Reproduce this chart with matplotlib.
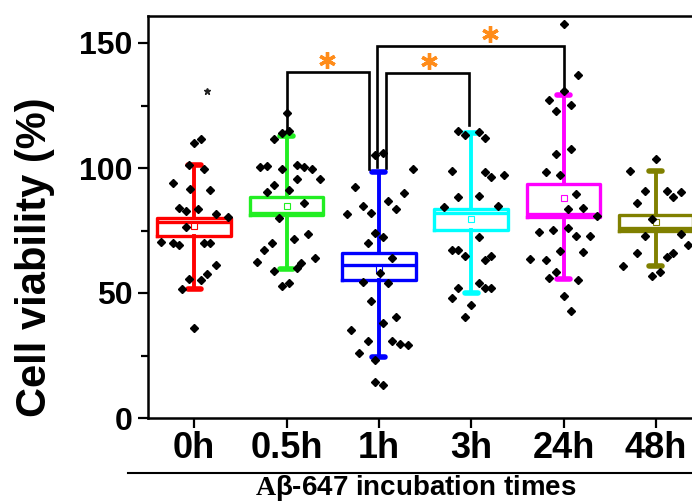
import matplotlib
matplotlib.use("Agg")
import matplotlib.pyplot as plt
from matplotlib.lines import Line2D

plt.rcParams['font.family'] = ['Liberation Sans', 'DejaVu Sans']
plt.rcParams['font.weight'] = 'bold'
plt.rcParams['mathtext.fontset'] = 'custom'
plt.rcParams['mathtext.rm'] = 'Liberation Serif'

# categories and colours
groups = ["0h", "0.5h", "1h", "3h", "24h", "48h"]
colors = ["#ff0000", "#22ee22", "#0000ff", "#00ffff", "#ff00ff", "#808000"]

# box statistics
q1 = [73.0, 81.2, 55.2, 75.2, 80.3, 74.8]
med = [78.5, 82.0, 61.2, 81.9, 81.6, 76.0]
q3 = [80.2, 88.5, 66.1, 83.6, 93.6, 81.2]
mean = [76.9, 84.8, 59.5, 79.6, 88.1, 78.3]
whislo = [51.7, 59.5, 24.5, 50.1, 55.7, 60.9]
whishi = [101.3, 112.8, 98.5, 113.9, 129.1, 98.9]

# raw points (values) and horizontal jitter
vals_0h = [110.1, 111.7, 101.3, 99.7, 94.1, 91.5, 91.2, 84.0, 82.9, 83.5, 81.6, 80.5,
           76.3, 70.5, 69.9, 69.2, 70.1, 69.9, 61.1, 57.7, 55.2, 55.7, 51.7, 36.1]
jit_0h = [0, .07, -.06, .11, -.23, -.04, .17, -.16, -.09, .04, .24, .37,
          -.09, -.36, -.23, -.16, .11, .17, .24, .14, .07, -.06, -.13, 0]
vals_05h = [122.1, 113.9, 114.7, 111.7, 100.3, 100.8, 99.5, 101.1, 100.3, 99.7, 95.7, 95.7,
            93.3, 90.4, 91.2, 85.9, 80.0, 73.6, 71.5, 70.0, 67.3, 62.5, 64.1, 58.7,
            60.1, 62.0, 52.8, 54.1]
jit_05h = [0, -.05, .03, -.13, -.29, -.21, -.05, .11, .19, .28, .11, .36,
           -.13, -.21, .03, .19, -.08, .23, .08, -.16, -.24, -.32, .31, -.13,
           .11, .16, -.05, .03]
vals_1h = [105.2, 106.1, 99.5, 92.3, 90.1, 86.9, 84.8, 83.7, 81.6, 81.9, 74.1, 72.5,
           69.9, 64.0, 58.1, 54.5, 54.1, 46.9, 40.5, 37.9, 35.2, 30.9, 30.9, 29.6,
           29.3, 25.9, 23.2, 14.5, 13.2]
jit_1h = [-.04, .05, .37, -.26, .27, .10, -.17, .19, -.35, -.08, -.04, .05,
          -.12, .14, .01, -.17, .10, -.08, .19, .05, -.30, -.12, .14, .23,
          .32, -.21, -.04, -.04, .05]
vals_3h = [114.9, 113.3, 114.5, 111.9, 98.8, 98.4, 96.4, 97.2, 88.4, 88.8, 84.5, 84.8,
           72.5, 67.1, 67.1, 64.9, 63.1, 64.9, 54.1, 52.1, 51.9, 51.9, 48.0, 45.1, 40.5]
jit_3h = [-.14, -.07, .08, .15, -.21, .15, .22, .36, -.14, .08, -.29, .29,
          .08, -.21, -.14, -.07, .15, .22, .08, -.14, .15, .22, -.21, 0, -.07]
vals_24h = [157.6, 137.1, 130.7, 127.2, 125.1, 122.7, 107.7, 105.6, 98.3, 97.2, 89.5, 83.6,
            84.1, 80.9, 74.3, 75.1, 75.9, 72.7, 72.9, 66.9, 66.5, 63.5, 63.2, 58.5,
            56.1, 55.3, 48.9, 42.8]
jit_24h = [.01, .16, 0, -.16, .08, -.08, .08, -.08, -.19, -.04, .13, .05,
           .21, .36, -.27, -.11, .05, .13, .29, -.04, .21, -.36, -.19, -.08,
           -.16, .16, 0, .08]
vals_48h = [103.7, 98.9, 90.7, 90.7, 88.3, 90.4, 85.9, 79.5, 72.8, 73.6, 69.3, 65.9,
            66.1, 64.4, 60.9, 58.5, 56.9]
jit_48h = [0, -.28, -.12, .12, .19, .27, -.20, -.04, -.12, .27, .35, -.20,
           .19, .12, -.36, .04, -.04]
points = [(vals_0h, jit_0h), (vals_05h, jit_05h), (vals_1h, jit_1h),
          (vals_3h, jit_3h), (vals_24h, jit_24h), (vals_48h, jit_48h)]

# outlier marked with a star in the 0h group
outlier_val = 131.0
outlier_jit = 0.14

# significance brackets: (left x, right x, top y, left foot, right foot)
brackets = [(2.0, 2.89, 138.5, 114.5, 99.5),
            (2.98, 5.0, 148.9, 100.5, 131.2),
            (3.08, 3.98, 137.9, 99.9, 117.2)]
stars = [(2.436, 143.2), (4.203, 153.5), (3.547, 142.9)]

fig = plt.figure(figsize=(6.92, 5.03), dpi=100)
ax = fig.add_axes([148 / 692, 85 / 503, 554 / 692, 402 / 503])

for i in range(len(groups)):
    st = dict(med=med[i], q1=q1[i], q3=q3[i], mean=mean[i],
              whislo=whislo[i], whishi=whishi[i], fliers=[])
    c = colors[i]
    ax.bxp([st], positions=[i + 1], widths=0.8, showmeans=True, manage_ticks=False,
           boxprops=dict(color=c, linewidth=2.4),
           medianprops=dict(color=c, linewidth=2.4),
           whiskerprops=dict(color=c, linewidth=2.8),
           capprops=dict(color=c, linewidth=4, solid_capstyle='round'),
           capwidths=0.14,
           meanprops=dict(marker='s', markerfacecolor='white', markeredgecolor=c,
                          markersize=4, markeredgewidth=0.8),
           zorder=2)

for i, (vals, jit) in enumerate(points):
    xs = [i + 1 + j for j in jit]
    ax.plot(xs, vals, linestyle='none', marker='D', markersize=3.6,
            color='black', zorder=3)

ax.plot([1 + outlier_jit], [outlier_val], linestyle='none', marker='*',
        markersize=5, color='#222222', zorder=3)

for x0, x1, ytop, y0, y1 in brackets:
    ax.plot([x0, x0, x1, x1], [y0, ytop, ytop, y1], color='black',
            linewidth=1.9, solid_joinstyle='miter', zorder=4)

for sx, sy in stars:
    ax.plot([sx], [sy], marker=(6, 2, 0), markersize=12, markeredgewidth=2.4,
            color='#ff8c1a', linestyle='none', zorder=5)

ax.set_xlim(0.5, 6.5)
ax.set_ylim(0, 160.8)
ax.set_yticks([0, 50, 100, 150])
ax.set_yticks([25, 75, 125], minor=True)
ax.set_xticks(range(1, 7))
ax.set_xticklabels(groups, fontsize=26, fontweight='bold')
ax.tick_params(axis='y', labelsize=23, width=1.6, length=7, direction='out', pad=4)
ax.tick_params(axis='y', which='minor', width=1.6, length=5, direction='out')
ax.tick_params(axis='x', width=1.6, length=7, direction='out', pad=2)
for s in ax.spines.values():
    s.set_linewidth(1.8)

fig.text(35 / 692, 1 - 257 / 503, "Cell viability (%)", rotation=90,
         ha='center', va='center', fontsize=30, fontweight='bold')

# line above the x axis title
fig.add_artist(Line2D([128 / 692, 1.0], [1 - 473 / 503, 1 - 473 / 503],
                      color='black', linewidth=1.5))
fig.text(416 / 692, 1 - 488 / 503, r"$\mathrm{A}$β-647 incubation times",
         ha='center', va='center', fontsize=20, fontweight='bold')

fig.savefig("out.png", dpi=100)
